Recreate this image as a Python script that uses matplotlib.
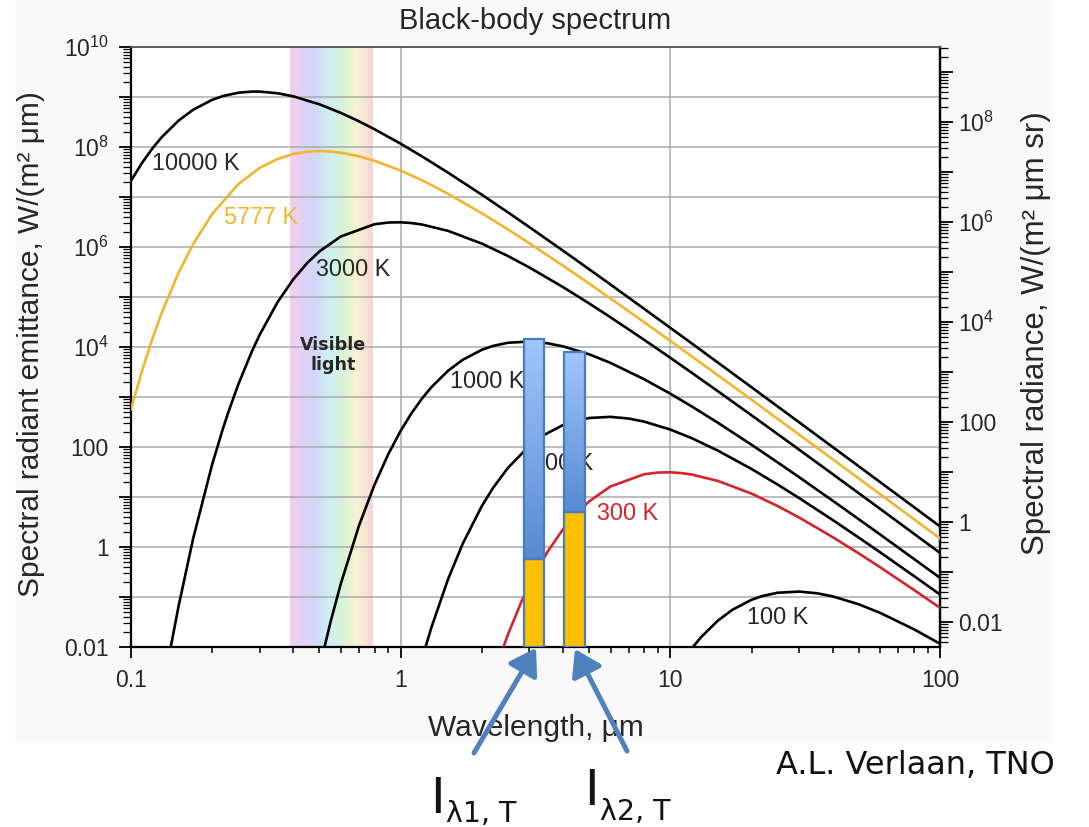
import numpy as np
import matplotlib
matplotlib.use("Agg")
import matplotlib.pyplot as plt
from matplotlib.patches import Rectangle, FancyArrowPatch
from matplotlib.ticker import FixedLocator, FuncFormatter, LogLocator, NullFormatter
from matplotlib.colors import LinearSegmentedColormap, to_rgb

# ---------------- data ----------------
wl_10000 = [0.1, 0.11, 0.12, 0.13, 0.15, 0.17, 0.2, 0.22, 0.25, 0.28, 0.3, 0.35, 0.4, 0.5, 0.6, 0.7, 0.8,
            1, 1.2, 1.5, 2, 2.5, 3, 4, 5, 6, 8, 10, 12, 15, 20, 25, 30, 40, 50, 60, 80, 100]
em_10000 = [2.111e7, 4.848e7, 9.333e7, 1.5725e8, 3.364e8, 5.5625e8, 8.789e8, 1.0503e9, 1.2172e9, 1.2828e9,
            1.2829e9, 1.1874e9, 1.0296e9, 7.139e8, 4.811e8, 3.2692e8, 2.2655e8, 1.1636e8, 6.491e7, 3.0613e7,
            1.1101e7, 4.925e6, 2.502e6, 8.441e5, 3.590e5, 1.7756e5, 5.796e4, 2.4183e4, 1.1805e4, 4894.7,
            1567.6, 646.8, 313.4, 99.77, 41.01, 19.83, 6.292, 2.582]

wl_5777 = [0.1, 0.11, 0.12, 0.13, 0.15, 0.17, 0.2, 0.25, 0.3, 0.35, 0.4, 0.45, 0.5, 0.55, 0.6, 0.7, 0.8,
           1, 1.2, 1.5, 2, 2.5, 3, 4, 5, 6, 8, 10, 12, 15, 20, 25, 30, 40, 50, 60, 80, 100]
em_5777 = [571, 3414, 14568, 48213, 3.0312e5, 1.1444e6, 4.568e6, 1.8067e7, 3.8204e7, 5.7902e7,
           7.237e7, 8.0369e7, 8.279e7, 8.1166e7, 7.700e7, 6.5311e7, 5.3126e7, 3.3807e7, 2.1582e7, 1.1564e7,
           4.7266e6, 2.2433e6, 1.1902e6, 4.2303e5, 1.8544e5, 9.353e4, 3.126e4, 13231, 6519.6, 2728.0,
           881.8, 365.8, 177.9, 56.88, 23.445, 11.354, 3.611, 1.4838]

wl_3000 = [0.12, 0.14, 0.15, 0.17, 0.2, 0.22, 0.23, 0.25, 0.28, 0.3, 0.35, 0.4, 0.45, 0.5, 0.6, 0.8, 0.9,
           1, 1.1, 1.2, 1.5, 2, 2.5, 3, 4, 5, 6, 8, 10, 12, 15, 20, 25, 30, 40, 50, 60, 80, 100]
em_3000 = [6.603e-5, 0.009222, 0.06411, 1.474, 45.03, 247.4, 511.1, 1786, 7911.4, 17555,
           79727, 2.2677e5, 4.7677e5, 8.1756e5, 1.6256e6, 2.8519e6, 3.0879e6, 3.1174e6, 3.0074e6, 2.8153e6,
           2.0998e6, 1.1692e6, 6.595e5, 3.9018e5, 1.5772e5, 74391, 39307, 13905, 6080.3, 3060.5,
           1307.9, 431.5, 181.18, 88.82, 28.684, 11.894, 5.783, 1.8482, 0.7616]

wl_1000 = [0.4, 0.5, 0.55, 0.6, 0.7, 0.8, 0.9, 1, 1.1, 1.2, 1.3, 1.5, 1.7, 2, 2.2, 2.5, 3, 3.5, 4, 5, 6,
           8, 10, 12, 15, 20, 25, 30, 40, 50, 60, 80, 100]
em_1000 = [8.734e-6, 0.003811, 0.03237, 0.18533, 2.6416, 17.654, 72.245, 211.08, 484.78, 933.3, 1572.5,
           3364.4, 5562.7, 8789, 10503, 12172, 12829, 11874, 10296, 7139, 4811,
           2265.5, 1163.6, 649.1, 306.13, 111.01, 49.25, 25.02, 8.441, 3.590, 1.7756, 0.5796, 0.24183]

wl_500 = [1.2, 1.3, 1.5, 1.7, 2, 2.2, 2.5, 3, 3.4, 4, 4.4, 5, 6, 7, 8, 10, 12, 15, 20, 25, 30, 40, 50, 60, 80, 100]
em_500 = [0.005792, 0.024562, 0.22968, 1.1736, 6.596, 15.149, 38.41, 105.13, 173.83, 274.67, 328.2,
          380.37, 400.9, 371.06, 321.75, 223.1, 150.37, 84.81, 36.36, 17.727, 9.566,
          3.4692, 1.5391, 0.7819, 0.26378, 0.1122]

wl_300 = [2, 2.3, 2.5, 2.8, 3, 3.5, 4, 4.5, 5, 6, 8, 9, 10, 11, 12, 15, 20, 25, 30, 40, 50, 60, 80, 100]
em_300 = [4.503e-4, 5.111e-3, 0.01786, 0.079114, 0.17555, 0.79727, 2.2677, 4.7677, 8.1756, 16.256,
          28.519, 30.879, 31.174, 30.074, 28.153, 20.998, 11.692, 6.595, 3.9018, 1.5772,
          0.74391, 0.39307, 0.13905, 0.060803]

wl_100 = [10, 12, 13, 15, 17, 20, 22, 25, 30, 35, 40, 50, 60, 80, 100]
em_100 = [0.0021108, 0.009333, 0.015725, 0.033644, 0.055627, 0.08789, 0.10503, 0.12172, 0.12829,
          0.11874, 0.10296, 0.07139, 0.04811, 0.022655, 0.011636]

curve_labels = ["10000 K", "5777 K", "3000 K", "1000 K", "500 K", "300 K", "100 K"]

# overlay bars (wavelength band edges in um, emittance levels)
bar_left = [2.87, 4.03]
bar_right = [3.41, 4.83]
bar_top = [1.43e4, 7.9e3]
bar_level = [0.57, 4.9]

visible_range = [0.39, 0.79]

x_ticks = [0.1, 1, 10, 100]
x_ticklabels = ["0.1", "1", "10", "100"]

# ---------------- figure ----------------
W, H = 1089, 827
FONT = "Liberation Sans"
plt.rcParams["font.family"] = [FONT, "DejaVu Sans"]
plt.rcParams["mathtext.fontset"] = "custom"
plt.rcParams["mathtext.rm"] = FONT
plt.rcParams["mathtext.it"] = FONT
TXT = "#262626"

fig = plt.figure(figsize=(W / 100, H / 100), dpi=100)
fig.patch.set_facecolor("white")


def fx(px):
    return px / W


def fy(py):
    return 1 - py / H


fig.patches.append(Rectangle((fx(15), fy(742)), (1052 - 15) / W, 742 / H,
                             transform=fig.transFigure, color="#f9f9f9", zorder=-10))

ax = fig.add_axes([fx(131), fy(647), 809 / W, 600 / H])
ax.set_facecolor("white")
ax.set_xscale("log")
ax.set_yscale("log")
ax.set_xlim(0.1, 100)
ax.set_ylim(0.01, 1e10)

# visible light rainbow band
stops = [(0.0, "#f3cfee"), (0.17, "#ddd1f6"), (0.32, "#cfd9f8"), (0.48, "#cff1f3"),
         (0.64, "#d7f3d3"), (0.8, "#f5f3d0"), (0.9, "#f8e5d4"), (1.0, "#f7d3d7")]
cmap = LinearSegmentedColormap.from_list("vis", stops)
n = 90
edges = np.logspace(np.log10(visible_range[0]), np.log10(visible_range[1]), n + 1)
for i in range(n):
    ax.axvspan(edges[i], edges[i + 1], color=cmap((i + 0.5) / n), lw=0, zorder=0.5)

# grid
ax.set_axisbelow("line")
ax.yaxis.grid(True, which="major", color="#ababab", lw=1.1)
ax.xaxis.grid(True, which="major", color="#ababab", lw=1.1)

# curves
series = [(wl_10000, em_10000, "black"), (wl_5777, em_5777, "#f3b52f"), (wl_3000, em_3000, "black"),
          (wl_1000, em_1000, "black"), (wl_500, em_500, "black"), (wl_300, em_300, "#d3242b"),
          (wl_100, em_100, "black")]
for wl, em, c in series:
    ax.plot(wl, em, color=c, lw=1.9, zorder=3, solid_joinstyle="round")

# curve labels (axes-fraction positions)
label_pos = [(152, 163), (224, 217), (316, 269), (450, 381), (532, 464), (597, 513), (747, 617)]
label_col = [TXT, "#f3b52f", TXT, TXT, TXT, "#d3242b", TXT]
for lab, (px, py), c in zip(curve_labels, label_pos, label_col):
    ax.text((px - 131) / 809, (647 - py) / 600, lab, transform=ax.transAxes, fontsize=16.8,
            color=c, ha="left", va="center", zorder=4)

ax.text((333 - 131) / 809, (647 - 355) / 600, "Visible\nlight", transform=ax.transAxes,
        family="DejaVu Sans", fontweight="bold", fontsize=12.6, color=TXT, ha="center",
        va="center", linespacing=1.15, zorder=4)

# overlay bars
top_c = np.array(to_rgb("#a0c6fa"))
bot_c = np.array(to_rgb("#5789d2"))
edge_c = "#4a7dbf"
ymin = ax.get_ylim()[0]
for l, r, t, lv in zip(bar_left, bar_right, bar_top, bar_level):
    ax.add_patch(Rectangle((l, ymin), r - l, lv - ymin, facecolor="#ffc000", edgecolor="none", zorder=5))
    m = 60
    ys = np.logspace(np.log10(lv), np.log10(t), m + 1)
    for j in range(m):
        f = (j + 0.5) / m
        col = bot_c * (1 - f) + top_c * f
        ax.add_patch(Rectangle((l, ys[j]), r - l, ys[j + 1] - ys[j], facecolor=col,
                               edgecolor="none", zorder=5))
    ax.add_patch(Rectangle((l, ymin), r - l, lv - ymin, facecolor="none", edgecolor=edge_c,
                           lw=1.6, zorder=6))
    ax.add_patch(Rectangle((l, lv), r - l, t - lv, facecolor="none", edgecolor=edge_c,
                           lw=1.6, zorder=6))


# ticks and formatting
def yfmt(v, pos):
    e = int(round(np.log10(v)))
    if e % 2:
        return ""
    if e == -2:
        return "0.01"
    if e == 0:
        return "1"
    if e == 2:
        return "100"
    return r"$10^{%d}$" % e


ax.yaxis.set_major_locator(FixedLocator(10.0 ** np.arange(-2, 11)))
ax.yaxis.set_major_formatter(FuncFormatter(yfmt))
ax.yaxis.set_minor_locator(LogLocator(base=10, subs=np.arange(2, 10), numticks=40))
ax.yaxis.set_minor_formatter(NullFormatter())
ax.xaxis.set_major_locator(FixedLocator(x_ticks))
ax.xaxis.set_major_formatter(FuncFormatter(lambda v, p: x_ticklabels[x_ticks.index(v)] if v in x_ticks else ""))
ax.xaxis.set_minor_locator(LogLocator(base=10, subs=np.arange(2, 10), numticks=40))
ax.xaxis.set_minor_formatter(NullFormatter())

ax.tick_params(axis="y", which="major", direction="out", length=9, width=1.3, labelsize=16.5,
               labelcolor=TXT, pad=7, right=False)
ax.tick_params(axis="y", which="minor", direction="out", length=5.5, width=0.9, right=False)
ax.tick_params(axis="x", which="major", direction="out", length=8, width=1.3, labelsize=16.5,
               labelcolor=TXT, pad=8, top=False)
ax.tick_params(axis="x", which="minor", direction="out", length=4, width=1.1, top=False)

for s in ["left", "bottom", "right"]:
    ax.spines[s].set_linewidth(1.6)
    ax.spines[s].set_color("black")
ax.spines["top"].set_linewidth(1.3)
ax.spines["top"].set_color("#555555")

sec = ax.secondary_yaxis("right", functions=(lambda y: y / np.pi, lambda y: y * np.pi))
sec.yaxis.set_major_locator(FixedLocator(10.0 ** np.arange(-2, 10)))
sec.yaxis.set_major_formatter(FuncFormatter(yfmt))
sec.yaxis.set_minor_locator(LogLocator(base=10, subs=np.arange(2, 10), numticks=40))
sec.yaxis.set_minor_formatter(NullFormatter())
sec.tick_params(axis="y", which="major", direction="out", length=9, width=1.3, labelsize=16.5,
                labelcolor=TXT, pad=4)
sec.tick_params(axis="y", which="minor", direction="out", length=5.5, width=0.9)
sec.spines["right"].set_linewidth(1.6)

ax.set_title("Black-body spectrum", fontsize=21, color=TXT, pad=13)
ax.set_xlabel("Wavelength, μm", fontsize=21.5, color=TXT)
ax.xaxis.set_label_coords(0.5, -0.112)
ax.set_ylabel("Spectral radiant emittance, W/(m² μm)", fontsize=21.5, color=TXT)
ax.yaxis.set_label_coords(-0.106, 0.505)
fig.text(fx(1036), fy(333), "Spectral radiance, W/(m² μm sr)", fontsize=22.5, color=TXT,
         rotation=90, ha="center", va="center")

# arrows pointing to the bars
arrow_c = "#4f81bd"
for (x0, y0), (x1, y1) in [((474, 753), (536, 648)), ((627, 751), (575, 649))]:
    fig.patches.append(FancyArrowPatch((fx(x0), fy(y0)), (fx(x1), fy(y1)), transform=fig.transFigure,
                                       arrowstyle="-|>,head_length=0.7,head_width=0.45",
                                       mutation_scale=22, lw=3.6, color=arrow_c,
                                       shrinkA=0, shrinkB=0, zorder=10))

# intensity labels
for (xi, yi), (xs, ys), sub in [((430, 813), (446, 822), "λ1, T"), ((584, 805), (600, 820), "λ2, T")]:
    fig.text(fx(xi), fy(yi), "I", fontsize=36, family="DejaVu Sans", color="#111111",
             ha="left", va="baseline")
    fig.text(fx(xs), fy(ys), sub, fontsize=20.5, family="DejaVu Sans", color="#111111",
             ha="left", va="baseline")

fig.text(fx(776), fy(774), "A.L. Verlaan, TNO", fontsize=23, family="DejaVu Sans",
         color="#111111", ha="left", va="baseline")

fig.savefig("out.png", dpi=100)
